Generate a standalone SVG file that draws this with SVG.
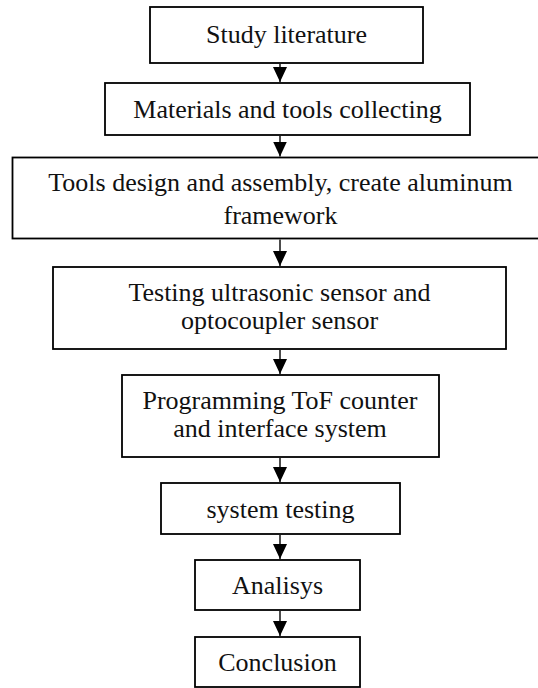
<svg xmlns="http://www.w3.org/2000/svg" width="538" height="688" viewBox="0 0 538 688">
  <style>
    .box { fill: #ffffff; stroke: #000000; stroke-width: 1.8; }
    .lbl { font-family: "Liberation Serif", "Times New Roman", serif; font-size: 26px; fill: #111111; text-anchor: middle; }
    .flow { stroke: #000000; stroke-width: 1.4; fill: none; }
  </style>
  <defs>
    <!-- filled arrowhead, drawn along +x so orient="auto" points it down the line -->
    <marker id="head" markerUnits="userSpaceOnUse" markerWidth="15" markerHeight="14" viewBox="0 0 15 14" refX="15" refY="7" orient="auto">
      <polygon points="0,0 15,7 0,14" fill="#000000"/>
    </marker>
  </defs>
  <rect width="538" height="688" fill="#ffffff"/>

  <!-- process steps -->
  <g id="study">
    <rect class="box" x="150" y="7" width="273" height="56"/>
    <text class="lbl" x="286.5" y="43">Study literature</text>
  </g>
  <g id="collect">
    <rect class="box" x="105" y="83" width="365" height="52"/>
    <text class="lbl" x="287.5" y="117.5">Materials and tools collecting</text>
  </g>
  <g id="design">
    <rect class="box" x="12.5" y="157.5" width="540" height="81"/>
    <text class="lbl" x="280.5" y="190.5">Tools design and assembly, create aluminum</text>
    <text class="lbl" x="280.5" y="224">framework</text>
  </g>
  <g id="sensors">
    <rect class="box" x="53" y="267" width="453" height="82"/>
    <text class="lbl" x="279.5" y="301">Testing ultrasonic sensor and</text>
    <text class="lbl" x="279.5" y="329">optocoupler sensor</text>
  </g>
  <g id="programming">
    <rect class="box" x="122" y="375" width="317" height="82"/>
    <text class="lbl" x="280" y="408.5">Programming ToF counter</text>
    <text class="lbl" x="280" y="437">and interface system</text>
  </g>
  <g id="sysTest">
    <rect class="box" x="161" y="483" width="239" height="51"/>
    <text class="lbl" x="280.5" y="517.5">system testing</text>
  </g>
  <g id="analysis">
    <rect class="box" x="195" y="560" width="165" height="50"/>
    <text class="lbl" x="277.5" y="593.5">Analisys</text>
  </g>
  <g id="conclusion">
    <rect class="box" x="195" y="637" width="165" height="50"/>
    <text class="lbl" x="277.5" y="671">Conclusion</text>
  </g>

  <!-- connectors -->
  <g id="connectors">
    <line class="flow" x1="280" y1="64" x2="280" y2="82" marker-end="url(#head)"/>
    <line class="flow" x1="280" y1="136" x2="280" y2="156.5" marker-end="url(#head)"/>
    <line class="flow" x1="280" y1="239.5" x2="280" y2="266" marker-end="url(#head)"/>
    <line class="flow" x1="280" y1="350" x2="280" y2="374" marker-end="url(#head)"/>
    <line class="flow" x1="280" y1="458" x2="280" y2="482" marker-end="url(#head)"/>
    <line class="flow" x1="280" y1="535" x2="280" y2="559" marker-end="url(#head)"/>
    <line class="flow" x1="280" y1="611" x2="280" y2="636" marker-end="url(#head)"/>
  </g>
</svg>
